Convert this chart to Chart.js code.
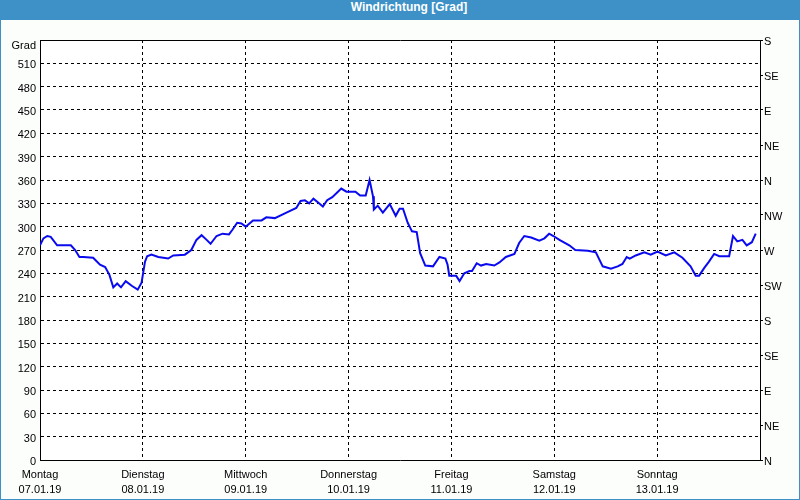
<!DOCTYPE html>
<html>
<head>
<meta charset="utf-8">
<script src="https://cdn.jsdelivr.net/npm/chart.js@4/dist/chart.umd.min.js"></script>
<style>
  html, body { margin: 0; padding: 0; background: #fff; }
  #frame { position: relative; width: 800px; height: 500px; background: #3d91c6; overflow: hidden; }
  #title { position: absolute; left: 0; top: 0; width: 800px; height: 20px; line-height: 20px;
           text-align: center; color: #fff; font: bold 12px "Liberation Sans", Arial, sans-serif; padding-left: 18px; box-sizing: border-box; }
  #c { position: absolute; left: 1px; top: 20px; }
</style>
</head>
<body>
<div id="frame">
  <div id="title">Windrichtung [Grad]</div>
  <canvas id="c" width="798" height="479"></canvas>
</div>
<script>
// ---- data ----
const dayNames = ['Montag', 'Dienstag', 'Mittwoch', 'Donnerstag', 'Freitag', 'Samstag', 'Sonntag'];
const dayDates = ['07.01.19', '08.01.19', '09.01.19', '10.01.19', '11.01.19', '12.01.19', '13.01.19'];
const compassLabels = ['N', 'NE', 'E', 'SE', 'S', 'SW', 'W', 'NW', 'N', 'NE', 'E', 'SE', 'S'];
const unitLabel = 'Grad';

// hours since Montag 07.01.19 00:00
const hours = [
  0.0, 0.8, 1.7, 2.5, 4.0, 7.2, 8.2, 9.2, 10.1, 12.4, 14.0, 15.2, 16.2, 17.1, 18.0, 18.9, 20.0, 21.4, 22.8, 23.7,
  24.5, 25.0, 26.0, 27.6, 29.9, 31.1, 33.8, 35.3, 36.5, 37.7, 38.7, 39.8, 41.2, 42.6, 44.1, 44.9, 46.0, 47.0, 48.0,
  49.7, 51.7, 52.8, 54.8, 57.5, 59.8, 60.8, 61.8, 62.8, 63.8, 65.1, 66.0, 67.0, 68.2, 70.3, 71.5, 73.6, 74.7, 76.0,
  76.9, 77.7, 77.9, 78.8, 80.0, 81.6, 83.0, 83.9, 84.7, 85.8, 86.8, 87.9, 88.7, 89.9, 91.7, 93.2, 94.6, 95.1, 95.5,
  97.1, 97.9, 99.0, 100.2, 100.8, 101.9, 102.9, 104.1, 106.0, 107.2, 108.7, 110.7, 111.8, 113.0, 114.6, 116.5, 117.7,
  118.8, 119.8, 121.2, 123.5, 124.9, 127.8, 129.7, 131.3, 133.2, 134.8, 135.9, 136.9, 137.6, 139.0, 141.0, 142.5,
  144.1, 146.0, 148.0, 149.9, 151.8, 153.0, 153.8, 155.0, 156.1, 157.3, 158.5, 160.8, 161.7, 162.7, 163.9, 164.9,
  166.1, 167.0
];
// wind direction in degrees
const degrees = [
  276, 285, 288, 287, 276, 276, 270, 261, 261, 260, 251, 248, 238, 222, 227, 222, 230, 224, 219, 228,
  255, 262, 264, 261, 259, 263, 264, 270, 283, 289, 284, 278, 288, 291, 290, 296, 305, 304, 300,
  308, 308, 312, 311, 318, 324, 333, 334, 330, 336, 330, 326, 334, 338, 349, 345, 345, 340, 340,
  360, 339, 322, 327, 318, 329, 314, 323, 323, 305, 294, 293, 266, 250, 249, 261, 259, 251, 237,
  237, 230, 240, 243, 243, 253, 250, 252, 250, 254, 261, 265, 279, 288, 286, 282, 285,
  291, 288, 283, 276, 270, 269, 267, 249, 246, 249, 252, 261, 259, 263, 267, 264,
  268, 263, 267, 260, 249, 237, 237, 247, 255, 265, 262, 262, 288, 281, 283, 276,
  280, 291
];

const points = hours.map((h, i) => ({ x: h, y: degrees[i] }));

const FONT = { family: '"Liberation Sans", Arial, sans-serif', size: 11 };

const framePlugin = {
  id: 'framePlugin',
  beforeDraw(chart) {
    const { ctx, chartArea: a } = chart;
    ctx.save();
    ctx.fillStyle = '#fcfefc';
    ctx.fillRect(0, 0, chart.width, chart.height);
    ctx.fillStyle = '#ffffff';
    ctx.fillRect(a.left, a.top, a.right - a.left, a.bottom - a.top);
    ctx.restore();
  },
  afterDraw(chart) {
    const { ctx, chartArea: a } = chart;
    ctx.save();
    ctx.strokeStyle = '#000';
    ctx.lineWidth = 1;
    ctx.beginPath();
    ctx.moveTo(Math.round(a.left) + 0.5, Math.round(a.top) + 0.5);
    ctx.lineTo(Math.round(a.right) + 0.5, Math.round(a.top) + 0.5);
    ctx.stroke();
    ctx.restore();
  }
};

new Chart(document.getElementById('c'), {
  type: 'line',
  data: {
    datasets: [{
      data: points,
      borderColor: '#0a0aee',
      borderWidth: 2,
      pointRadius: 0,
      tension: 0,
      fill: false
    }]
  },
  options: {
    responsive: false,
    animation: false,
    layout: { padding: { top: 20, left: 0, right: 0, bottom: 0 } },
    plugins: { legend: { display: false }, tooltip: { enabled: false }, title: { display: false } },
    scales: {
      x: {
        type: 'linear',
        min: 0, max: 168,
        afterFit(s) { s.height = 39; },
        ticks: {
          stepSize: 24, autoSkip: false, maxRotation: 0, padding: 7,
          color: '#000', font: Object.assign({ lineHeight: 15 / 11 }, FONT),
          callback(v) {
            const i = Math.round(v / 24);
            return i < 7 ? [dayNames[i], dayDates[i]] : '';
          }
        },
        grid: { color: '#000', lineWidth: 1, drawTicks: false },
        border: { display: true, color: '#000', width: 1, dash: [3, 3] }
      },
      y: {
        position: 'left',
        min: 0, max: 540,
        afterFit(s) { s.width = 39; },
        ticks: {
          stepSize: 30, padding: 4, labelOffset: 2, color: '#000',
          font(ctx) {
            const top = ctx.tick && ctx.tick.value === 540;
            return Object.assign({ lineHeight: top ? 0.7 : 1.2 }, FONT);
          },
          callback(v) { return v === 540 ? ['', unitLabel] : String(v); }
        },
        grid: { color: '#000', lineWidth: 1, drawTicks: false },
        border: { display: true, color: '#000', width: 1, dash: [3, 3] }
      },
      y2: {
        position: 'right',
        min: 0, max: 540,
        afterFit(s) { s.width = 39; },
        ticks: {
          stepSize: 45, padding: 1, labelOffset: 2, color: '#000', font: FONT,
          callback(v) { return compassLabels[Math.round(v / 45)]; }
        },
        grid: { color: '#000', lineWidth: 1, drawOnChartArea: false, drawTicks: true, tickLength: 3 },
        border: { display: true, color: '#000', width: 1 }
      }
    }
  },
  plugins: [framePlugin]
});
</script>
</body>
</html>
